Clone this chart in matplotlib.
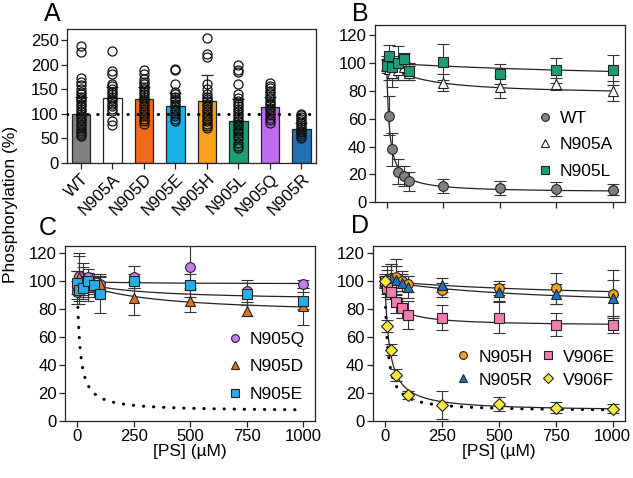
import numpy as np
import matplotlib
matplotlib.use("Agg")
import matplotlib.pyplot as plt

plt.rcParams['font.family'] = ['Liberation Sans', 'DejaVu Sans']
plt.rcParams['font.size'] = 12

# ---- panel A: bars + individual points
mutants = ['WT', 'N905A', 'N905D', 'N905E', 'N905H', 'N905L', 'N905Q', 'N905R']
bar_means = [100, 133, 130, 116, 127, 86, 114, 69]
bar_sd = [35, 22, 25, 27, 51, 44, 21, 13]
bar_colors = ['#808080', '#ffffff', '#f26a1b', '#1ab0e8', '#f9a11b', '#1c9e73', '#c06cf0', '#1f71b8']
points = {
    'WT': [238, 225, 172, 165, 158, 150, 145, 140, 135, 130, 125, 120, 115, 110, 105, 100,
           95, 90, 85, 80, 75, 70, 65, 60, 57, 55],
    'N905A': [227, 187, 180, 160, 157, 150, 145, 140, 135, 130, 125, 120, 115, 110, 105, 85, 78],
    'N905D': [190, 180, 170, 165, 160, 155, 150, 145, 140, 135, 130, 125, 120, 115, 110, 105,
              100, 95, 90, 85, 80],
    'N905E': [192, 188, 160, 145, 140, 135, 130, 125, 120, 115, 110, 105, 100, 95, 90, 85],
    'N905H': [255, 222, 215, 160, 150, 140, 135, 130, 125, 120, 115, 110, 105, 100, 95, 90,
              85, 80, 75, 72],
    'N905L': [200, 190, 185, 160, 140, 132, 125, 120, 115, 110, 105, 100, 95, 90, 85, 80, 75,
              70, 65, 60, 55, 50, 40, 35, 30],
    'N905Q': [162, 157, 152, 147, 142, 137, 132, 127, 122, 117, 112, 107, 102, 97, 92, 87, 82],
    'N905R': [100, 97, 94, 90, 86, 82, 78, 74, 70, 66, 62, 58, 54, 50],
}

# ---- panels B-D: dose response, [PS] in uM
conc = [0, 10, 25, 50, 75, 100, 250, 500, 750, 1000]
conc_f = [0, 10, 25, 50, 100, 250, 500, 750, 1000]

wt_b = [100, 62, 38, 22, 19, 15, 11.5, 10, 9.5, 9]
wt_b_err = [5, 14, 12, 9, 7, 7, 5, 5, 5, 4]
n905a_b = [98, 96, 93, 95, 97, 93, 86, 83, 85, 80]
n905a_b_err = [5, 8, 10, 7, 4, 5, 6, 8, 4, 7]
n905l_b = [98, 105, 97, 100, 103, 94, 101, 92, 95, 95]
n905l_b_err = [4, 8, 8, 12, 4, 6, 13, 7, 9, 11]

n905q_c = [92, 104, 100, 103, 97, 98, 103, 110, 93, 98]
n905q_c_err = [8, 14, 10, 6, 5, 5, 8, 15, 8, 3]
n905d_c = [97, 103, 101, 96, 97, 98, 88, 86, 79, 82]
n905d_c_err = [10, 17, 12, 10, 8, 6, 12, 8, 4, 13]
n905e_c = [99, 94, 95, 100, 97, 91, 100, 97, 91, 86]
n905e_c_err = [8, 10, 8, 6, 6, 14, 5, 8, 8, 6]

n905h_d = [100, 101, 102, 103, 100, 98, 94, 95, 95, 91]
n905h_d_err = [5, 10, 10, 13, 7, 6, 5, 5, 11, 17]
n905r_d = [100, 101, 102, 101, 99, 96, 97, 92, 91, 88]
n905r_d_err = [4, 7, 10, 10, 6, 8, 5, 6, 7, 13]
v906e_d = [100, 95, 92, 85, 81, 76, 74, 74, 69, 69]
v906e_d_err = [3, 6, 5, 8, 7, 10, 9, 11, 8, 6]
v906f_d = [100, 68, 51, 33, 18.5, 11.5, 12, 9.5, 9]
v906f_d_err = [3, 4, 4, 4, 3, 10, 5, 4, 3]

# fitted hyperbola params: (top, bottom, IC50)
fit_wt = (100, 7, 12)
fit_n905a = (100, 77, 150)
fit_n905l = (100, 85, 1500)
fit_n905q = (100, 98, 200)
fit_n905d = (100, 76, 300)
fit_n905e = (100, 86, 250)
fit_n905h = (100, 85, 1000)
fit_n905r = (100, 80, 700)
fit_v906e = (100, 68, 40)
fit_v906f = (100, 7, 20)


def fit_curve(params, x):
    top, bottom, ic50 = params
    return bottom + (top - bottom) * ic50 / (ic50 + x)


def style_axes(ax):
    for s in ax.spines.values():
        s.set_linewidth(0.9)
        s.set_color('#222222')
    ax.tick_params(direction='out', length=4, width=0.9, color='#222222', pad=2)


def draw_series(ax, x, y, err, marker, color, label, fit=None):
    xx = np.linspace(0, 1000, 600)
    if fit is not None:
        ax.plot(xx, fit_curve(fit, xx), color='#222222', lw=0.9, zorder=2)
    ax.errorbar(x, y, yerr=err, fmt='none', ecolor='#333333', elinewidth=0.8,
                capsize=4, capthick=0.8, zorder=3)
    ax.plot(x, y, linestyle='none', marker=marker, ms=7 if marker != 'D' else 6,
            mfc=color, mec='#222222', mew=0.8, label=label, zorder=4)


def dose_axes(ax, top, xlabels=True):
    ax.set_xlim(-53, 1053)
    ax.set_ylim(0, top)
    ax.set_yticks([0, 20, 40, 60, 80, 100, 120])
    ax.set_xticks([0, 250, 500, 750, 1000])
    if not xlabels:
        ax.set_xticklabels([])
    style_axes(ax)


leg_kw = dict(frameon=False, borderpad=0, borderaxespad=0, handlelength=1.0,
              handletextpad=0.35, markerscale=0.8, fontsize=12.5)

fig = plt.figure(figsize=(6.33, 4.78), dpi=100)

# panel A
axA = fig.add_axes([0.106, 0.659, 0.393, 0.280])
xpos = np.arange(len(mutants))
axA.bar(xpos, bar_means, width=0.58, color=bar_colors, edgecolor='#222222', linewidth=0.9, zorder=2)
axA.errorbar(xpos, bar_means, yerr=[np.zeros(len(bar_sd)), bar_sd], fmt='none',
             ecolor='#222222', elinewidth=0.9, capsize=4, capthick=0.9, zorder=3)
for i, m in enumerate(mutants):
    axA.plot(np.full(len(points[m]), i), points[m], linestyle='none', marker='o', ms=6.5,
             mfc='none', mec='#111111', mew=0.9, zorder=4)
axA.axhline(100, color='black', lw=2.2, linestyle=(0, (0.1, 3.2)), dash_capstyle='round', zorder=5)
axA.set_xlim(-0.44, 7.46)
axA.set_ylim(0, 272)
axA.set_yticks([0, 50, 100, 150, 200, 250])
axA.set_xticks(xpos)
axA.set_xticklabels(mutants, rotation=45, ha='right', rotation_mode='anchor')
style_axes(axA)

# panel B
axB = fig.add_axes([0.592, 0.577, 0.395, 0.371])
draw_series(axB, conc, wt_b, wt_b_err, 'o', '#808080', 'WT', fit_wt)
draw_series(axB, conc, n905a_b, n905a_b_err, '^', '#ffffff', 'N905A', fit_n905a)
draw_series(axB, conc, n905l_b, n905l_b_err, 's', '#1b9e77', 'N905L', fit_n905l)
dose_axes(axB, 127.5, xlabels=False)
axB.legend(loc='upper left', bbox_to_anchor=(0.645, 0.515), labelspacing=0.65, **leg_kw)

# panel C
axC = fig.add_axes([0.103, 0.119, 0.395, 0.366])
xx = np.linspace(3, 1000, 600)
axC.plot(xx, fit_curve(fit_wt, xx), color='black', lw=2.2, linestyle=(0, (0.1, 3.2)),
         dash_capstyle='round', zorder=1)
draw_series(axC, conc, n905q_c, n905q_c_err, 'o', '#c77cf2', 'N905Q', fit_n905q)
draw_series(axC, conc, n905d_c, n905d_c_err, '^', '#e8711c', 'N905D', fit_n905d)
draw_series(axC, conc, n905e_c, n905e_c_err, 's', '#27aee6', 'N905E', fit_n905e)
dose_axes(axC, 125)
axC.set_xlabel('[PS] (µM)', fontsize=12.5, labelpad=0)
axC.legend(loc='upper left', bbox_to_anchor=(0.645, 0.51), labelspacing=0.7, **leg_kw)

# panel D
axD = fig.add_axes([0.589, 0.119, 0.398, 0.366])
axD.plot(xx, fit_curve(fit_wt, xx), color='black', lw=2.2, linestyle=(0, (0.1, 3.2)),
         dash_capstyle='round', zorder=1)
draw_series(axD, conc, n905h_d, n905h_d_err, 'o', '#f7a11a', 'N905H', fit_n905h)
draw_series(axD, conc, n905r_d, n905r_d_err, '^', '#1f72b8', 'N905R', fit_n905r)
draw_series(axD, conc, v906e_d, v906e_d_err, 's', '#f07cb0', 'V906E', fit_v906e)
draw_series(axD, conc_f, v906f_d, v906f_d_err, 'D', '#f5ec3a', 'V906F', fit_v906f)
dose_axes(axD, 125)
axD.set_xlabel('[PS] (µM)', fontsize=12.5, labelpad=0)
axD.legend(loc='upper left', bbox_to_anchor=(0.325, 0.41), ncol=2, labelspacing=0.45,
           columnspacing=0.4, **leg_kw)

fig.text(0.016, 0.573, 'Phosphorylation (%)', rotation=90, ha='center', va='center', fontsize=12.5)
for letter, x, y in [('A', 0.082, 0.97), ('B', 0.569, 0.97), ('C', 0.076, 0.523), ('D', 0.569, 0.527)]:
    fig.text(x, y, letter, ha='center', va='center', fontsize=18)

fig.savefig('out.png', dpi=100)
